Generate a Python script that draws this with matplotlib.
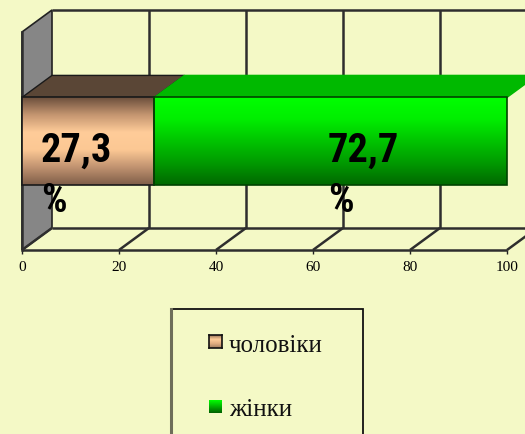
import numpy as np
import matplotlib
matplotlib.use("Agg")
import matplotlib.pyplot as plt
from matplotlib.patches import Polygon, Rectangle
from matplotlib.transforms import IdentityTransform
from matplotlib.colors import LinearSegmentedColormap

# ---- data ----
categories = ["чоловіки", "жінки"]
values = [27.3, 72.7]
xticks = [0, 20, 40, 60, 80, 100]
tick_labels = ["0", "20", "40", "60", "80", "100"]

# ---- style ----
BG = "#F4F9C6"
W, H = 525, 434
DX, DY = 30, 22  # depth offset in pixels
label_x = [3.9, 63.1]
LABEL_FONT = ["Roboto Condensed", "Liberation Sans"]

fig = plt.figure(figsize=(W / 100, H / 100), dpi=100, facecolor=BG)
ax = fig.add_axes([22 / W, (H - 250) / H, 485 / W, 218 / H])
ax.set_facecolor("none")
ax.set_xlim(0, 100)
ax.set_ylim(0, 1)
for s in ax.spines.values():
    s.set_visible(False)
ax.set_yticks([])
ax.set_xticks(xticks)
ax.set_xticklabels(tick_labels, family="Liberation Serif", fontsize=11)
ax.tick_params(axis="x", length=3, width=1, color="#222222", pad=5)

ident = IdentityTransform()


def proj(x, y, d):
    px, py = ax.transData.transform((x, y))
    return (px + d * DX, py + d * DY)


def poly(points, **kw):
    p = Polygon([proj(*q) for q in points], closed=True, transform=ident, clip_on=False, **kw)
    ax.add_artist(p)
    return p


def line(p0, p1, **kw):
    a, b = proj(*p0), proj(*p1)
    ax.add_line(plt.Line2D([a[0], b[0]], [a[1], b[1]], transform=ident, clip_on=False, **kw))


def grad_fill(points, colors, zorder):
    pts = [proj(*q) for q in points]
    xs = [p[0] for p in pts]
    ys = [p[1] for p in pts]
    cmap = LinearSegmentedColormap.from_list("g", colors)
    g = np.linspace(0, 1, 256).reshape(-1, 1)
    clip = Polygon(pts, closed=True, transform=ident, facecolor="none", edgecolor="none")
    ax.add_artist(clip)
    im = ax.imshow(g, cmap=cmap, aspect="auto", origin="upper",
                   extent=(min(xs), max(xs), min(ys), max(ys)),
                   transform=ident, zorder=zorder, interpolation="bilinear")
    im.set_clip_path(clip)
    im.set_clip_on(True)
    return im


GRID = dict(color="#2e2e2e", lw=1.8, zorder=2, solid_capstyle="butt")

# left side wall
poly([(0, 0, 0), (0, 1, 0), (0, 1, 1), (0, 0, 1)], facecolor="#868686",
     edgecolor="#222222", lw=1.2, zorder=1)

# back wall grid
for v in xticks:
    if v > 0:
        line((v, 0, 1), (v, 1, 1), **GRID)
line((0, 1, 1), (100, 1, 1), **GRID)
line((0, 0, 1), (100, 0, 1), **GRID)
# floor
line((0, 0, 0), (100, 0, 0), **GRID)
for v in xticks:
    line((v, 0, 0), (v, 0, 1), **GRID)
line((0, 0, 0), (0, 1, 0), color="#2e2e2e", lw=1.8, zorder=2)

# bars
y0, h = 0.3, 0.4
front_cols = [
    ["#6a4e3c", "#c49570", "#ffcc99", "#fcc894", "#c09270", "#7e5e48"],
    ["#00ff00", "#00ee00", "#00c400", "#009a00", "#006800"],
]
top_cols = ["#5a4636", "#00b900"]
edge_cols = ["#1a1a1a", "#004400"]
left = 0.0
for i, v in enumerate(values):
    r = left + v
    # top face
    poly([(left, y0 + h, 0), (r, y0 + h, 0), (r, y0 + h, 1), (left, y0 + h, 1)],
         facecolor=top_cols[i], edgecolor="#1a1a1a" if i == 0 else top_cols[i], lw=1.0, zorder=4)
    # front face
    grad_fill([(left, y0, 0), (r, y0, 0), (r, y0 + h, 0), (left, y0 + h, 0)], front_cols[i], 5)
    poly([(left, y0, 0), (r, y0, 0), (r, y0 + h, 0), (left, y0 + h, 0)],
         facecolor="none", edgecolor=edge_cols[i], lw=1.2, zorder=6)
    left = r

# right end face of last bar
grad_fill([(left, y0, 0), (left, y0 + h, 0), (left, y0 + h, 1), (left, y0, 1)],
          ["#00a000", "#008800", "#005200"], 5)

# value labels
for i, v in enumerate(values):
    txt = f"{v:.1f}".replace(".", ",")
    ax.text(label_x[i], 0.404, txt, family=LABEL_FONT,
            fontweight="bold", fontsize=29, va="baseline", ha="left", zorder=8)
    ax.text(label_x[i], 0.175, "%", family=LABEL_FONT,
            fontweight="bold", fontsize=29, va="baseline", ha="left", zorder=8)

# legend (manual)
fig.add_artist(Rectangle((171 / W, -0.05), 192 / W, (H - 309) / H + 0.05,
                         transform=fig.transFigure, facecolor="none",
                         edgecolor="#111111", lw=1.3))
fig.add_artist(plt.Line2D([171 / W, 171 / W], [-0.05, (H - 309) / H],
                          transform=fig.transFigure, color="#6e6e5a", lw=2.2))
sw_cols = [["#9a7458", "#ffcc99", "#e0ac80", "#a07c60"], ["#00ff00", "#00b000", "#006000"]]
sw_top = [335, 400]
base = [352, 416]
for i, name in enumerate(categories):
    x0 = 209
    yb = H - sw_top[i] - 13
    cax = fig.add_axes([x0 / W, yb / H, 13 / W, 13 / H])
    cmap = LinearSegmentedColormap.from_list("s", sw_cols[i])
    cax.imshow(np.linspace(0, 1, 64).reshape(-1, 1), cmap=cmap, aspect="auto")
    cax.set_xticks([]); cax.set_yticks([])
    for s in cax.spines.values():
        s.set_visible(i == 0)
        s.set_color("#111111"); s.set_linewidth(1.2)
    fig.text(229 / W, (H - base[i]) / H, name, family="Liberation Serif", fontsize=18,
             va="baseline", ha="left", color="#111111")

fig.savefig("out.png", dpi=100, facecolor=BG)
